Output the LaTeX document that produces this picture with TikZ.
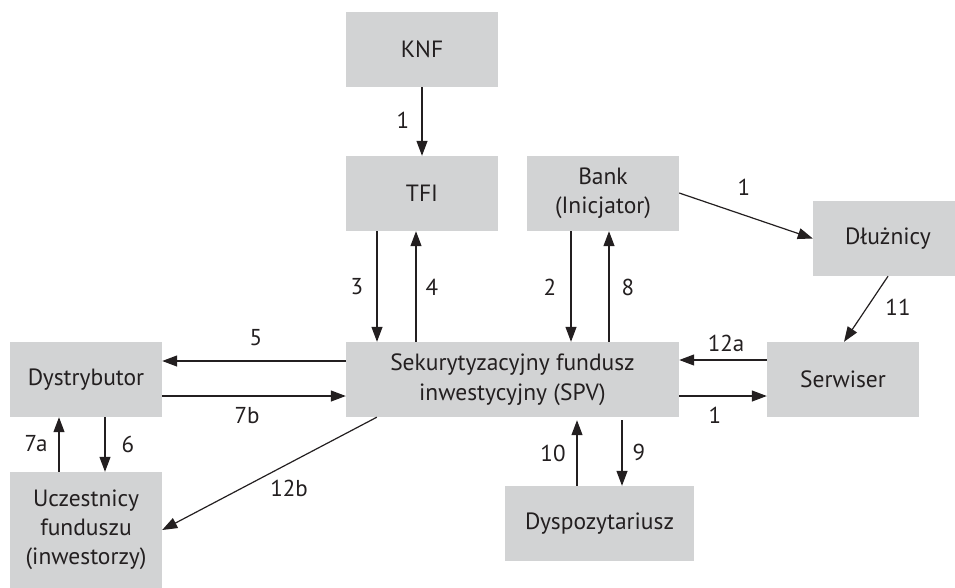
\documentclass[tikz,border=0pt]{standalone}
\usepackage{fontspec}
\setmainfont{PT Sans}
\usetikzlibrary{arrows.meta}
\definecolor{boxgray}{RGB}{210,211,212}
\definecolor{ink}{RGB}{35,31,32}
\begin{document}
\begin{tikzpicture}[x=1pt,y=-1pt,
  box/.style={fill=boxgray, draw=none, inner sep=0pt, align=center,
    text=ink, font=\fontsize{23.5}{29}\selectfont},
  lbl/.style={text=ink, inner sep=0pt, font=\fontsize{23}{25}\selectfont},
  arr/.style={draw=ink, line width=1.2pt, -{Triangle[length=15pt,width=11pt]}}]
\useasboundingbox (0,0) rectangle (955,587);

% organisations
\node[box, minimum width=152pt, minimum height=75pt] (knf) at (422,49.5) {KNF};
\node[box, minimum width=152pt, minimum height=75pt] (tfi) at (422,193.5) {TFI};
\node[box, minimum width=152pt, minimum height=75pt] (bank) at (603,193.5) {Bank\\(Inicjator)};
\node[box, minimum width=150pt, minimum height=75pt] (dluz) at (888,238.5) {Dłużnicy};
\node[box, minimum width=333pt, minimum height=75pt] (spv) at (512.5,379.5) {Sekurytyzacyjny fundusz\\[1.5pt]inwestycyjny (SPV)};
\node[box, minimum width=152pt, minimum height=75pt] (dys) at (86,379.5) {Dystrybutor};
\node[box, minimum width=152pt, minimum height=75pt] (serw) at (843,379.5) {Serwiser};
\node[box, minimum width=152pt, minimum height=116pt] (ucz) at (86,530) {Uczestnicy\\funduszu\\(inwestorzy)};
\node[box, minimum width=189pt, minimum height=75pt] (depo) at (599.5,523.5) {Dyspozytariusz};

% flows
\draw[arr] (knf.south) -- (tfi.north);
\draw[arr] ([xshift=-45pt]tfi.south) -- ([xshift=-45pt]tfi.south |- spv.north);
\draw[arr] ([xshift=-6pt]tfi.south |- spv.north) -- ([xshift=-6pt]tfi.south);
\draw[arr] ([xshift=-32pt]bank.south) -- ([xshift=-32pt]bank.south |- spv.north);
\draw[arr] ([xshift=6pt]bank.south |- spv.north) -- ([xshift=6pt]bank.south);
\draw[arr] ([yshift=0.5pt]bank.east) -- ([yshift=0pt]dluz.west);
\draw[arr] (dluz.south) -- ([xshift=1pt]serw.north);
\draw[arr] ([yshift=19.5pt]serw.west) -- ([yshift=19.5pt]spv.east);
\draw[arr] ([yshift=-16.5pt]spv.east) -- ([yshift=-16.5pt]serw.west);
\draw[arr] ([yshift=18.5pt]spv.west) -- ([yshift=18.5pt]dys.east);
\draw[arr] ([yshift=-16.5pt]dys.east) -- ([yshift=-16.5pt]spv.west);
\draw[arr] ([xshift=-27pt]ucz.north) -- ([xshift=-27pt]dys.south);
\draw[arr] ([xshift=19pt]dys.south) -- ([xshift=19pt]ucz.north);
\draw[arr] ([xshift=31pt]spv.south west) -- (ucz.east);
\coordinate (spvlow) at ([yshift=-3pt]spv.south);
\draw[arr] ([xshift=-22.5pt]depo.north) -- ([xshift=-22.5pt]depo.north |- spvlow);
\draw[arr] ([xshift=22.5pt]depo.north |- spvlow) -- ([xshift=22.5pt]depo.north);

% flow numbers
\node[lbl] (n1a) at (403,120) {1};
\node[lbl] (n3) at (357,287) {3};
\node[lbl] (n4) at (432,287) {4};
\node[lbl] (n2) at (550,287) {2};
\node[lbl] (n8) at (628,287) {8};
\node[lbl] (n1b) at (744,187) {1};
\node[lbl] (n11) at (898,307) {11};
\node[lbl] (n12a) at (726,343) {12a};
\node[lbl] (n1c) at (715,415) {1};
\node[lbl] (n5) at (256,338) {5};
\node[lbl] (n7b) at (247,416) {7b};
\node[lbl] (n7a) at (36,444) {7a};
\node[lbl] (n6) at (128,444) {6};
\node[lbl] (n12b) at (289,488) {12b};
\node[lbl] (n10) at (553,453) {10};
\node[lbl] (n9) at (639,452) {9};
\end{tikzpicture}
\end{document}
